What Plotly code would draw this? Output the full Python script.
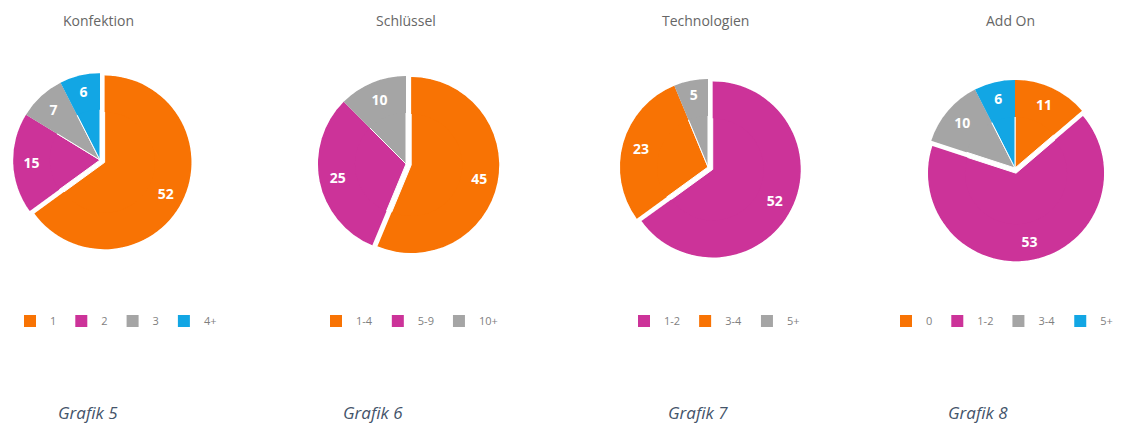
import plotly.graph_objects as go

# Page is 1135x434; the HTML body adds an 8px margin, so the figure is
# sized to fit inside and page coordinates are shifted by that margin.
PAGE_W, PAGE_H = 1135, 434
OFF = 8
W, H = PAGE_W - 2 * OFF, PAGE_H - 2 * OFF

# ---- data ----
titles = ["Konfektion", "Schlüssel", "Technologien", "Add On"]
captions = ["Grafik 5", "Grafik 6", "Grafik 7", "Grafik 8"]

konfektion_labels = ["1", "2", "3", "4+"]
konfektion_values = [52, 15, 7, 6]

schluessel_labels = ["1-4", "5-9", "10+"]
schluessel_values = [45, 25, 10]

technologien_labels = ["1-2", "3-4", "5+"]
technologien_values = [52, 23, 5]

addon_labels = ["0", "1-2", "3-4", "5+"]
addon_values = [11, 53, 10, 6]

# ---- styling ----
ORANGE = "#F87304"
MAGENTA = "#CC3399"
GRAY = "#A5A5A5"
BLUE = "#12A6E4"

# positions in page pixels
charts = [
    dict(labels=konfektion_labels, values=konfektion_values,
         colors=[ORANGE, MAGENTA, GRAY, BLUE], pull=[0.06, 0, 0, 0],
         cx=100, cy=160, title_x=98, cap_x=88, leg_x=10, leg_anchor="left"),
    dict(labels=schluessel_labels, values=schluessel_values,
         colors=[ORANGE, MAGENTA, GRAY], pull=[0.06, 0, 0],
         cx=406, cy=164, title_x=406, cap_x=373, leg_x=316, leg_anchor="left"),
    dict(labels=technologien_labels, values=technologien_values,
         colors=[MAGENTA, ORANGE, GRAY], pull=[0.06, 0, 0],
         cx=708, cy=167, title_x=705, cap_x=698, leg_x=624, leg_anchor="left"),
    dict(labels=addon_labels, values=addon_values,
         colors=[ORANGE, MAGENTA, GRAY, BLUE], pull=[0, 0.06, 0, 0],
         cx=1015, cy=168, title_x=1010, cap_x=978, leg_x=886, leg_anchor="left"),
]

R = 88  # pie radius in px
LABEL_RING = 0.58  # labels sit in the outer ring, as in the reference


def px_x(x):
    return (x - OFF) / W


def px_y(y):
    return 1 - (y - OFF) / H


fig = go.Figure()
annotations = []
legend_names = ["legend", "legend2", "legend3", "legend4"]
layout_legends = {}

for i, c in enumerate(charts):
    half = R * (1 + max(c["pull"]))
    fx = c["cx"] - OFF
    halfx = min(half, fx, W - fx)
    domain = dict(x=[(fx - halfx) / W, (fx + halfx) / W],
                  y=[px_y(c["cy"] + half), px_y(c["cy"] - half)])
    common = dict(
        labels=c["labels"], values=c["values"],
        pull=c["pull"], sort=False, direction="clockwise", rotation=0,
        domain=domain, legend=legend_names[i], legendgroup=titles[i],
        name=titles[i],
    )
    # full pie (body of the slices)
    fig.add_trace(go.Pie(
        **common,
        marker=dict(colors=c["colors"], line=dict(color="white", width=1)),
        textinfo="none", showlegend=False, hoverinfo="skip",
    ))
    # outer ring on top carrying the value labels near the rim
    fig.add_trace(go.Pie(
        **common,
        hole=LABEL_RING,
        marker=dict(colors=c["colors"], line=dict(color="white", width=0)),
        textinfo="value", textposition="inside",
        insidetextorientation="horizontal",
        textfont=dict(family="Open Sans", size=14, color="white", weight="bold"),
        hoverinfo="label+value",
    ))
    layout_legends[legend_names[i]] = dict(
        orientation="h", x=px_x(c["leg_x"]), xanchor=c["leg_anchor"],
        y=px_y(321), yanchor="middle",
        font=dict(family="Open Sans", size=11, color="#7F7F7F"),
        bgcolor="rgba(0,0,0,0)", traceorder="normal",
    )
    annotations.append(dict(
        text=titles[i], x=px_x(c["title_x"]), y=px_y(20),
        xref="paper", yref="paper", xanchor="center", yanchor="middle",
        showarrow=False,
        font=dict(family="Open Sans", size=14, color="#666666"),
    ))
    annotations.append(dict(
        text=captions[i], x=px_x(c["cap_x"]), y=0,
        xref="paper", yref="paper", xanchor="center", yanchor="bottom",
        showarrow=False,
        font=dict(family="Open Sans", size=17, color="#44546A", style="italic"),
    ))

fig.update_layout(
    width=W, height=H,
    margin=dict(l=0, r=0, t=0, b=0, autoexpand=False),
    paper_bgcolor="white", plot_bgcolor="white",
    showlegend=True,
    annotations=annotations,
    **layout_legends,
)

fig.write_html("out.html")
